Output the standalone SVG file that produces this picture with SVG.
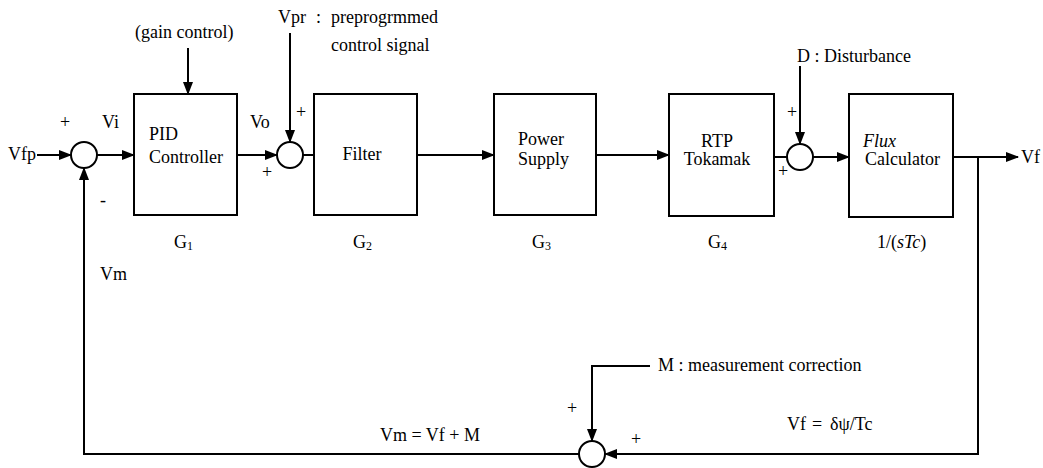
<svg xmlns="http://www.w3.org/2000/svg" width="1043" height="468" viewBox="0 0 1043 468">
<style>
text{font-family:"Liberation Serif","Times New Roman","DejaVu Serif",serif;font-size:18px;fill:#000}
.box{fill:#fff;stroke:#000;stroke-width:2}
.sum{fill:#fff;stroke:#000;stroke-width:2}
.ln{fill:none;stroke:#000;stroke-width:2}
.ar{marker-end:url(#ah)}
.sub{font-size:12px}
</style>
<defs>
<marker id="ah" markerUnits="userSpaceOnUse" markerWidth="13" markerHeight="10" refX="12" refY="5" orient="auto">
<path d="M0,0 L13,5 L0,10 z" fill="#000"/>
</marker>
</defs>
<rect width="1043" height="468" fill="#fff"/>
<g id="connectors">
<path class="ln ar" d="M37,155 H71"/>
<path class="ln ar" d="M97,155 H134"/>
<path class="ln ar" d="M188,48 V94"/>
<path class="ln ar" d="M237,155 H277"/>
<path class="ln ar" d="M290,33 V142"/>
<path class="ln" d="M303,155 H314"/>
<path class="ln ar" d="M417,155 H494"/>
<path class="ln ar" d="M596,155 H669"/>
<path class="ln" d="M774,157 H787"/>
<path class="ln ar" d="M800,66 V144"/>
<path class="ln ar" d="M813,157 H849"/>
<path class="ln ar" d="M953,157 H1018"/>
<path class="ln ar" d="M978,157 V454 H605"/>
<path class="ln ar" d="M650,366 H592 V441"/>
<path class="ln ar" d="M579,454 H84 V168"/>
</g>
<g id="sum1"><circle class="sum" cx="84" cy="155" r="13"/></g>
<g id="sum2"><circle class="sum" cx="290" cy="155" r="13"/></g>
<g id="sum3"><circle class="sum" cx="800" cy="157" r="13"/></g>
<g id="sum4"><circle class="sum" cx="592" cy="454" r="13"/></g>
<g id="pid">
<rect class="box" x="134" y="94" width="103" height="121"/>
<text x="149" y="140">PID</text>
<text x="149" y="163">Controller</text>
<text x="174" y="248">G<tspan class="sub" dy="2">1</tspan></text>
</g>
<g id="filter">
<rect class="box" x="314" y="94" width="103" height="121"/>
<text x="362" y="160" text-anchor="middle">Filter</text>
<text x="353" y="248">G<tspan class="sub" dy="2">2</tspan></text>
</g>
<g id="power">
<rect class="box" x="494" y="94" width="102" height="121"/>
<text x="518" y="145">Power</text>
<text x="518" y="165">Supply</text>
<text x="532" y="248">G<tspan class="sub" dy="2">3</tspan></text>
</g>
<g id="rtp">
<rect class="box" x="669" y="94" width="105" height="122"/>
<text x="717" y="147" text-anchor="middle">RTP</text>
<text x="717" y="165" text-anchor="middle">Tokamak</text>
<text x="708" y="248">G<tspan class="sub" dy="2">4</tspan></text>
</g>
<g id="flux">
<rect class="box" x="849" y="94" width="104" height="123"/>
<text x="863" y="147" font-style="italic">Flux</text>
<text x="865" y="165">Calculator</text>
<text x="877" y="248">1/(<tspan font-style="italic">sTc</tspan>)</text>
</g>
<g id="labels">
<text x="135" y="38">(gain control)</text>
<text x="278" y="23">Vpr</text>
<text x="316" y="23">:</text>
<text x="331" y="23">preprogrmmed</text>
<text x="331" y="51">control signal</text>
<text x="797" y="62">D : Disturbance</text>
<text x="8" y="160">Vfp</text>
<text x="60" y="128">+</text>
<text x="102" y="128">Vi</text>
<text x="250" y="128">Vo</text>
<text x="296" y="118">+</text>
<text x="262" y="178">+</text>
<text x="100" y="206">-</text>
<text x="100" y="280">Vm</text>
<text x="787" y="118">+</text>
<text x="778" y="177">+</text>
<text x="1021" y="163">Vf</text>
<text x="658" y="371">M : measurement correction</text>
<text x="567" y="414">+</text>
<text x="631" y="445">+</text>
<text x="380" y="441">Vm = Vf + M</text>
<text x="787" y="430">Vf</text>
<text x="812" y="430">=</text>
<text x="830" y="430">δψ/Tc</text>
</g>
</svg>
